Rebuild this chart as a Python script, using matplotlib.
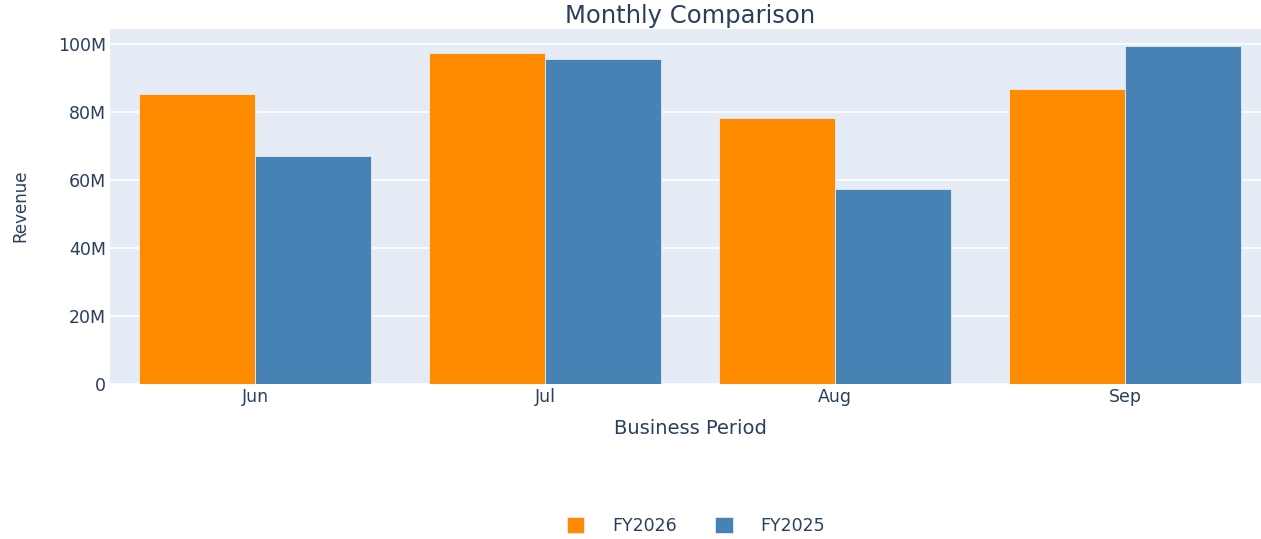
import numpy as np
import matplotlib.pyplot as plt
from matplotlib.ticker import FuncFormatter

# Дані
months = ['Jun', 'Jul', 'Aug', 'Sep']
fy2026 = [85.5e6, 97.5e6, 78.2e6, 86.9e6]
fy2025 = [67.0e6, 95.8e6, 57.4e6, 99.4e6]

text_color = '#2a3f5f'
plt.rcParams['font.family'] = ['DejaVu Sans']

fig = plt.figure(figsize=(12.61, 5.39), dpi=100)
ax = fig.add_axes([110 / 1261, 1 - 384 / 539, 1160 / 1261, 355 / 539])
ax.set_facecolor('#E5ECF6')

x = np.arange(len(months))
w = 0.4
ax.bar(x - w / 2, fy2026, w, color='#FF8C00', edgecolor='#E5ECF6', linewidth=0.6,
       label='FY2026', zorder=3)
ax.bar(x + w / 2, fy2025, w, color='#4682B4', edgecolor='#E5ECF6', linewidth=0.6,
       label='FY2025', zorder=3)

ax.set_xlim(-0.5, len(months) - 0.5)
ax.set_ylim(0, 104.5e6)
ax.set_yticks(np.arange(0, 101e6, 20e6))
ax.yaxis.set_major_formatter(FuncFormatter(lambda v, p: '0' if v == 0 else f'{v / 1e6:.0f}M'))
ax.set_xticks(x)
ax.set_xticklabels(months)
ax.grid(axis='y', color='white', linewidth=1.2, zorder=0)
ax.set_axisbelow(True)
for s in ax.spines.values():
    s.set_visible(False)
ax.tick_params(length=0, colors=text_color, labelsize=12.5)
ax.tick_params(axis='y', pad=3)
ax.tick_params(axis='x', pad=3)

ax.set_xlabel('Business Period', color=text_color, fontsize=14, labelpad=9)
fig.text(20 / 1261, 1 - 206 / 539, 'Revenue', rotation=90, color=text_color,
         fontsize=12, ha='center', va='center')
fig.text(690 / 1261, 1 - 16 / 539, 'Monthly Comparison', color=text_color,
         fontsize=17.5, ha='center', va='center')

fig.legend(loc='center', bbox_to_anchor=(696 / 1261, 1 - 526 / 539), ncol=2,
           frameon=False, fontsize=12.5, labelcolor=text_color, handlelength=1.0,
           handleheight=1.0, columnspacing=2.2, handletextpad=1.6)

plt.savefig('out.png', dpi=100)
